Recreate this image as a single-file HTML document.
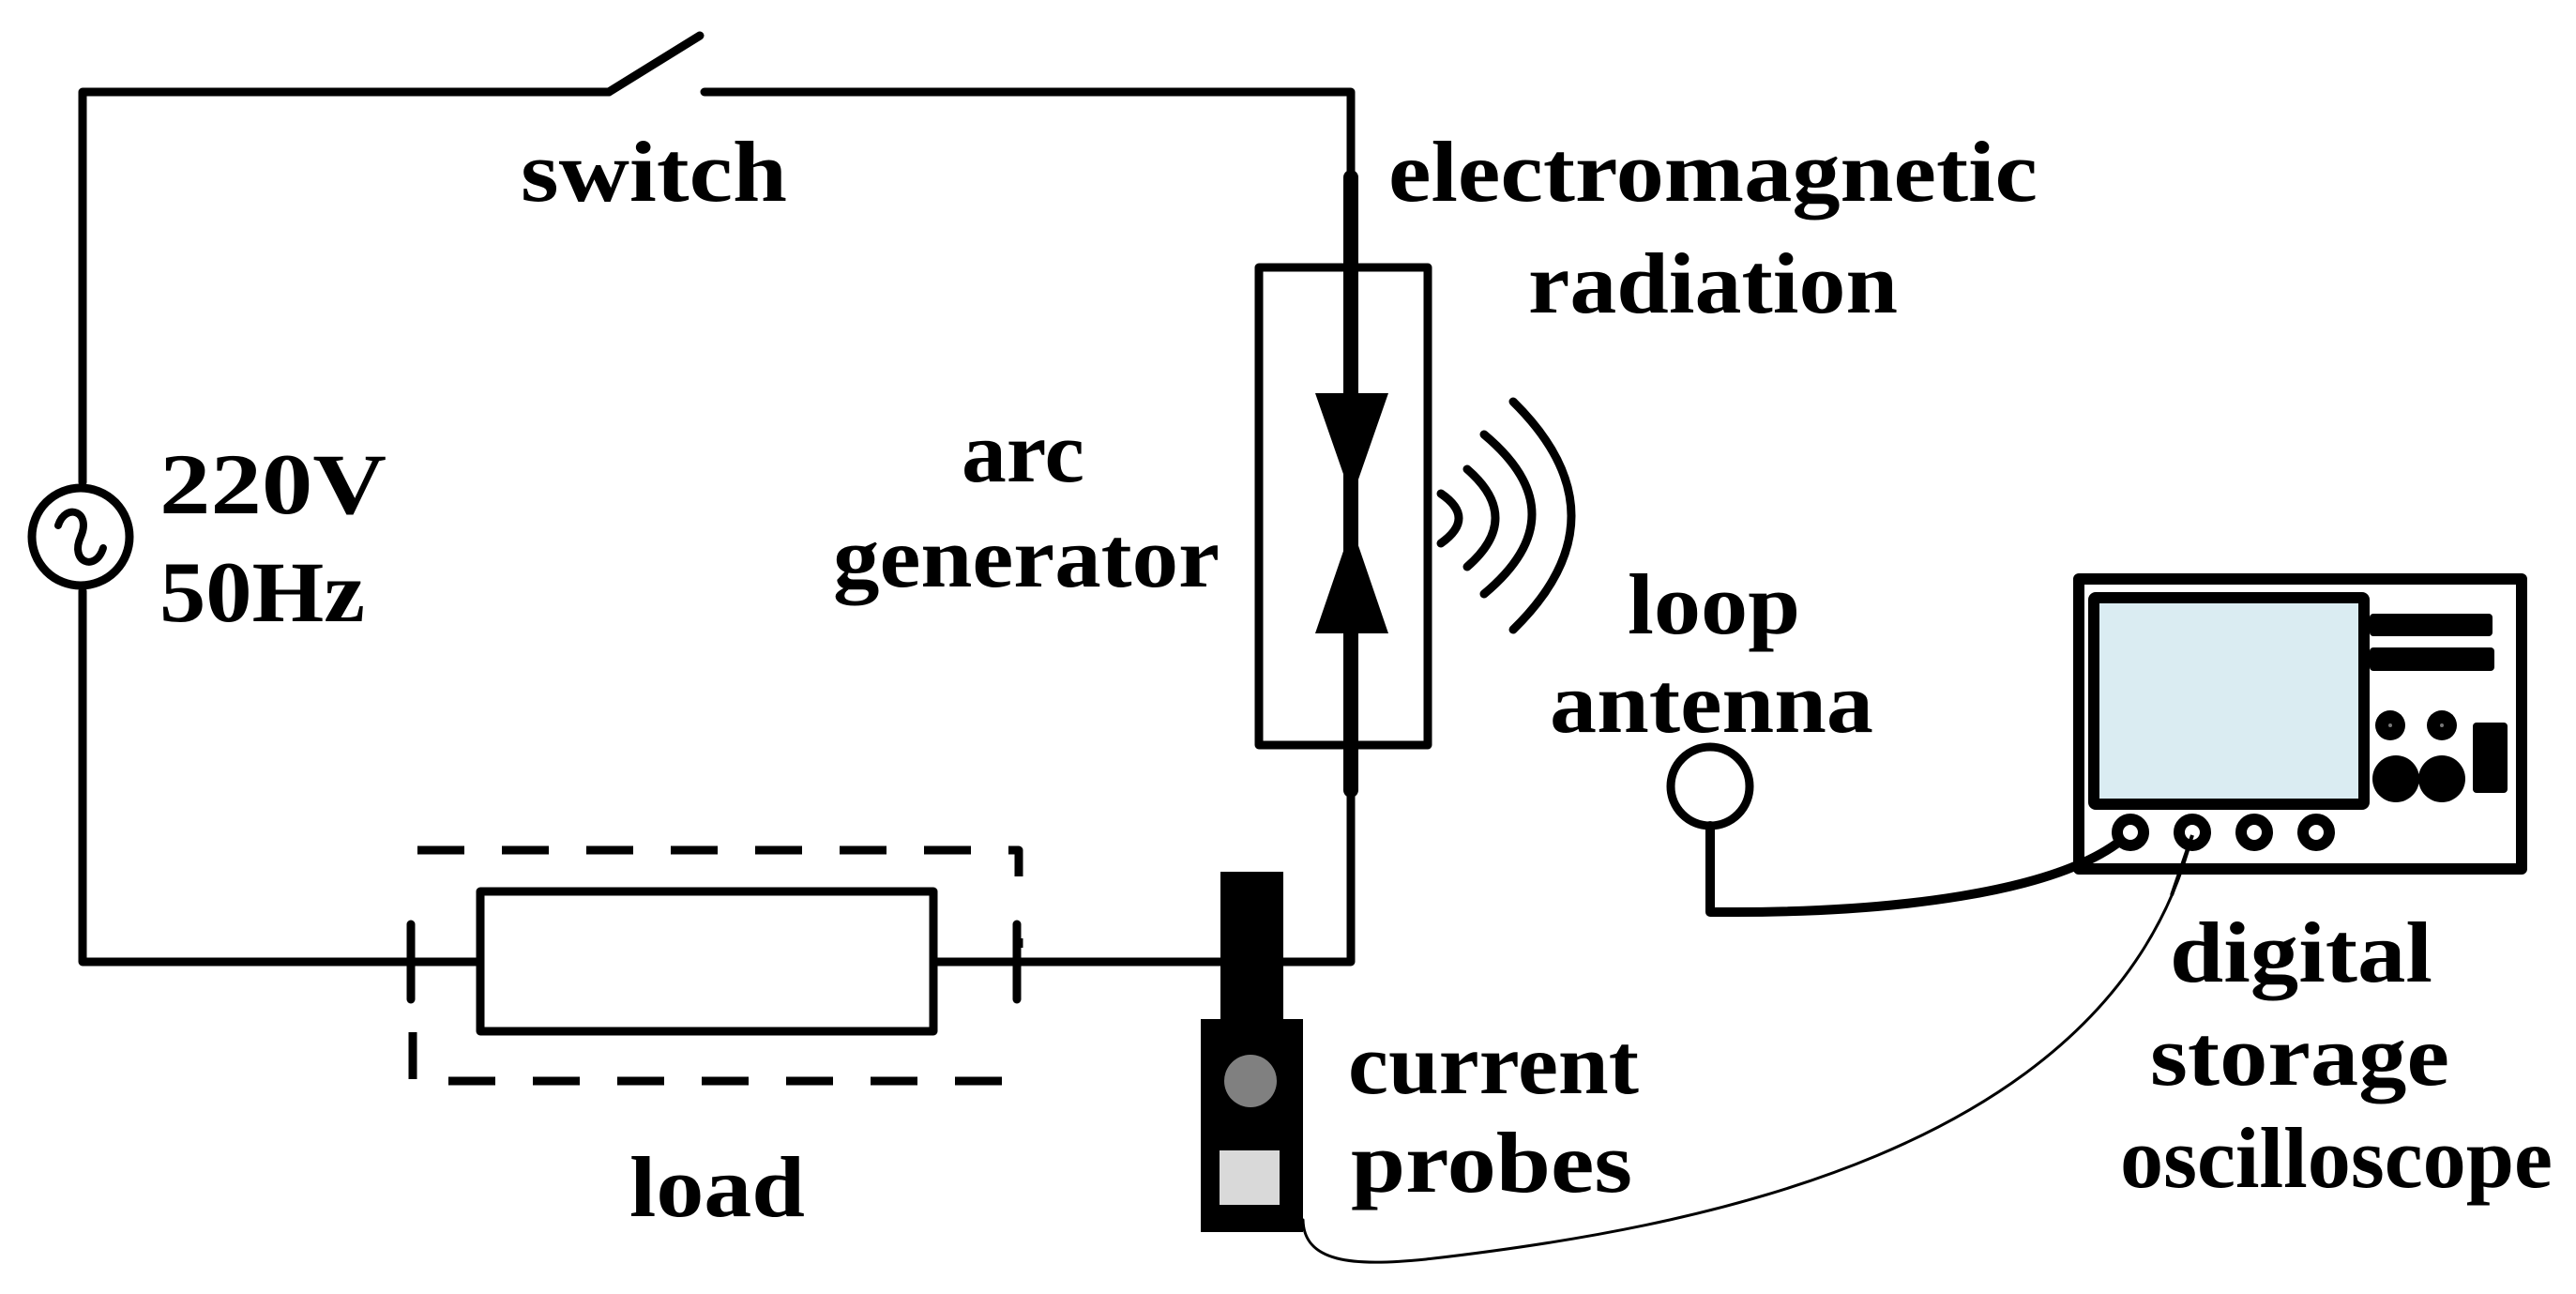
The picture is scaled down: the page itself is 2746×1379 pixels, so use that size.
<!DOCTYPE html>
<html><head><meta charset="utf-8"><style>html,body{margin:0;padding:0;background:#fff}svg{display:block}</style></head>
<body>
<svg width="2746" height="1379" viewBox="0 0 2746 1379" xmlns="http://www.w3.org/2000/svg">
<g fill="none" stroke="#000" stroke-width="9" stroke-linecap="round" stroke-linejoin="round">
  <polyline points="649,98 88,98 88,514"/>
  <line x1="649" y1="98" x2="746" y2="38"/>
  <polyline points="751,98 1440,98 1440,189"/>
  <circle cx="86" cy="572" r="52"/>
  <path d="M62,560 C70,535 98,545 86,572 C74,599 102,610 110,584" stroke-width="8"/>
  <polyline points="88,630 88,1025 438,1025"/>
  <line x1="438" y1="985" x2="438" y2="1065"/>
  <line x1="438" y1="1025" x2="512" y2="1025"/>
  <rect x="512" y="950" width="483" height="149"/>
  <line x1="995" y1="1025" x2="1301" y2="1025"/>
  <line x1="1084" y1="985" x2="1084" y2="1065"/>
  <polyline points="1368,1025 1440,1025 1440,842"/>
  <path d="M445,906 H1086 V934 M1086,1000 V1010 M440,1100 V1152 H1086 V1132" stroke-dasharray="50,40" stroke-width="9" stroke-linecap="butt"/>
  <rect x="1342" y="285" width="180" height="509"/>
  <line x1="1440" y1="189" x2="1440" y2="842" stroke-width="16"/>
  <path d="M1536,526 Q1574,552 1536,579"/>
  <path d="M1564,500 Q1624,552 1564,604"/>
  <path d="M1582,463 Q1684,548 1582,633"/>
  <path d="M1613,428 Q1737,550 1613,671"/>
  <circle cx="1823" cy="838" r="42"/>
  <path d="M1823,880 V972 H1850 C2000,972 2200,955 2271,887" stroke-width="10"/>
  <path d="M1389,1300 C1390,1345 1440,1350 1520,1342 C1800,1310 2250,1230 2337,890" stroke-width="3"/>
  <rect x="2216" y="617" width="472" height="309" stroke-width="12"/>
</g>
<polygon points="1402,419 1480,419 1441,531" fill="#000"/>
<polygon points="1402,675 1480,675 1441,561" fill="#000"/>
<rect x="1301" y="929" width="67" height="160" fill="#000"/>
<rect x="1280" y="1086" width="109" height="227" fill="#000"/>
<circle cx="1333" cy="1152" r="28" fill="#808080"/>
<rect x="1300" y="1226" width="64" height="58" fill="#d9d9d9"/>
<rect x="2232" y="637" width="288" height="220" fill="#daecf2" stroke="#000" stroke-width="12" rx="2"/>
<rect x="2526" y="654" width="131" height="24" rx="4" fill="#000"/>
<rect x="2526" y="690" width="133" height="25" rx="4" fill="#000"/>
<circle cx="2548" cy="773" r="16" fill="#000"/><circle cx="2548" cy="773" r="2" fill="#777"/>
<circle cx="2603" cy="773" r="16" fill="#000"/><circle cx="2603" cy="773" r="2" fill="#777"/>
<circle cx="2554" cy="830" r="25" fill="#000"/>
<circle cx="2603" cy="830" r="25" fill="#000"/>
<rect x="2636" y="770" width="37" height="75" rx="4" fill="#000"/>
<g fill="#fff" stroke="#000" stroke-width="12">
  <circle cx="2271" cy="887" r="14"/>
  <circle cx="2337" cy="887" r="14"/>
  <circle cx="2403" cy="887" r="14"/>
  <circle cx="2469" cy="887" r="14"/>
</g>
<path d="M2337,890 L2315,954" stroke="#000" stroke-width="4"/>
<g font-family="'Liberation Serif', serif" font-weight="bold" font-size="92" fill="#000">
  <text x="555" y="214" textLength="284" lengthAdjust="spacingAndGlyphs">switch</text>
  <text x="1480" y="214" textLength="692" lengthAdjust="spacingAndGlyphs">electromagnetic</text>
  <text x="1629" y="333" textLength="394" lengthAdjust="spacingAndGlyphs">radiation</text>
  <text x="1025" y="513" textLength="131" lengthAdjust="spacingAndGlyphs">arc</text>
  <text x="888" y="625" textLength="412" lengthAdjust="spacingAndGlyphs">generator</text>
  <text x="170" y="547" textLength="242" lengthAdjust="spacingAndGlyphs">220V</text>
  <text x="170" y="662" textLength="219" lengthAdjust="spacingAndGlyphs">50Hz</text>
  <text x="1735" y="675" textLength="184" lengthAdjust="spacingAndGlyphs">loop</text>
  <text x="1652" y="780" textLength="345" lengthAdjust="spacingAndGlyphs">antenna</text>
  <text x="671" y="1296" textLength="187" lengthAdjust="spacingAndGlyphs">load</text>
  <text x="1437" y="1165" textLength="310" lengthAdjust="spacingAndGlyphs">current</text>
  <text x="1440" y="1270" textLength="300" lengthAdjust="spacingAndGlyphs">probes</text>
  <text x="2313" y="1046" textLength="280" lengthAdjust="spacingAndGlyphs">digital</text>
  <text x="2292" y="1156" textLength="319" lengthAdjust="spacingAndGlyphs">storage</text>
  <text x="2260" y="1265" textLength="461" lengthAdjust="spacingAndGlyphs">oscilloscope</text>
</g>
</svg>
</body></html>
